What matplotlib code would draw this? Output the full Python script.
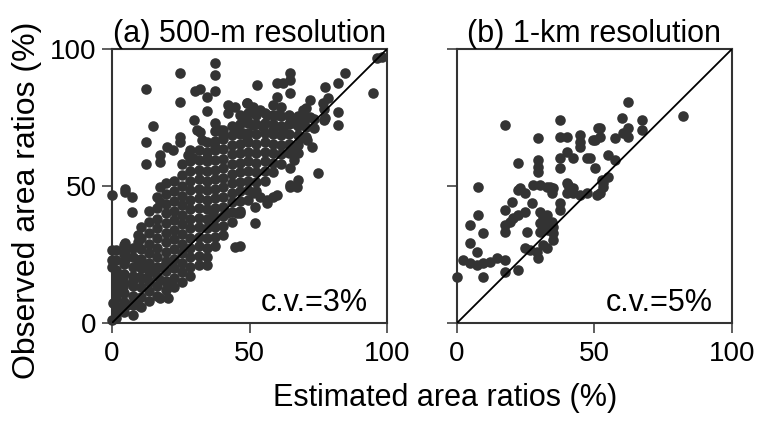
import matplotlib
matplotlib.use('Agg')
import matplotlib.pyplot as plt

plt.rcParams['font.family'] = ['Liberation Sans', 'DejaVu Sans']

# (a) 500-m resolution: scattered points
est_a_out = [37.5, 37.5, 24.7, 12.4, 30.2, 32.0, 37.5, 34.5, 24.7, 34.5, 42.2, 44.7, 49.0, 42.2,
             29.8, 37.5, 14.8, 30.8, 32.0, 32.6, 39.3, 40.5, 24.7, 24.7, 12.4, 19.9, 22.3, 17.5,
             17.5, 27.7, 29.6, 34.4, 37.5, 12.4, 45.3, 47.7, 49.0, 4.7,
             96.2, 98.0, 64.7, 64.7, 84.7, 52.6, 59.9, 62.3, 64.7, 59.9, 82.3, 77.5, 95.0, 72.0,
             78.7, 76.8, 82.3, 82.3, 77.5, 69.6, 72.0, 69.0, 49.0, 51.4, 53.8, 56.3, 59.9, 64.7,
             66.0, 68.4, 49.0, 51.4, 55.0, 58.7, 62.3, 68.4, 70.8, 72.6, 66.0, 67.7, 66.0, 64.7,
             75.0, 67.7, 64.7,
             0.0, 4.7, 7.2, 7.2, 17.5, 17.5, 9.6, 9.6, 4.7, 4.7, 0.0, 0.0, 0.0, 4.7, 9.6, 11.4,
             1.7, 4.1, 1.7, 4.1, 1.7, 7.8, 10.2, 12.6, 15.6, 18.7, 17.5, 19.9, 17.5, 20.5,
             0.5, 2.9, 5.3, 7.8, 9.6, 0.0, 1.7, 34.4, 44.7, 36.8, 41.7, 45.3,
             64.7, 67.2, 51.4, 53.8, 56.3, 58.7, 59.9, 52.0, 56.3, 52.0, 46.5, 46.5]
obs_a_out = [94.8, 90.5, 91.1, 85.3, 84.8, 85.3, 84.8, 82.4, 80.8, 77.5, 79.6, 79.0, 80.2, 76.5,
             74.1, 72.9, 71.9, 70.4, 69.8, 66.8, 70.4, 68.6, 68.0, 66.2, 66.2, 64.3, 63.1, 61.3,
             58.9, 61.3, 60.1, 60.1, 64.3, 58.0, 70.4, 69.2, 66.8, 48.8,
             96.6, 97.2, 91.1, 88.7, 91.1, 86.9, 87.5, 87.5, 83.8, 82.6, 87.5, 86.3, 83.8, 81.4,
             82.0, 80.2, 77.1, 72.3, 74.7, 77.7, 75.3, 74.1, 80.2, 79.0, 77.7, 75.9, 75.9, 74.7,
             72.9, 73.5, 74.1, 72.3, 71.7, 70.4, 70.4, 67.4, 66.8, 64.3, 64.3, 61.9, 59.5, 56.4,
             54.6, 52.2, 49.7,
             46.7, 47.9, 46.1, 40.6, 49.7, 44.3, 32.1, 29.7, 29.1, 26.0, 26.6, 23.0, 20.5, 23.0,
             23.0, 20.5, 18.1, 16.9, 14.5, 13.3, 10.8, 15.7, 16.9, 16.3, 19.3, 20.5, 15.7, 14.5,
             9.0, 9.0, 7.2, 6.0, 6.6, 7.2, 6.6, 1.1, 4.1, 21.2, 27.8, 40.0, 40.0, 40.0,
             50.4, 49.7, 47.3, 46.1, 44.9, 46.1, 46.7, 42.4, 43.7, 36.4, 40.0, 28.0]

# (a) dense core of the cloud, column by column
core_x = [1.5, 4.5, 7.5, 10.5, 13.5, 16.5, 19.5, 22.5, 25.5, 28.5, 31.5, 34.5, 37.5,
          40.5, 43.5, 46.5, 49.5, 52.5, 55.5, 58.5, 61.5, 64.5, 67.5, 70.5, 73.5, 77.0]
core_y = [
    [2, 5.5, 9, 12.5, 16, 19.5, 23, 26.5],
    [4, 7.5, 11, 14.5, 18, 21.5, 25, 28.5],
    [3, 6.5, 10, 13.5, 17, 20.5, 24, 27.5],
    [6, 9.5, 13, 16.5, 20, 23.5, 27, 31, 35],
    [8, 11.5, 15, 18.5, 22, 25.5, 29, 33, 37, 41],
    [10, 13.5, 17, 20.5, 24, 27.5, 31, 34.5, 38, 42, 46],
    [12, 15.5, 19, 22.5, 26, 29.5, 33, 36.5, 40, 43.5, 47, 51],
    [13, 16.5, 20, 23.5, 27, 30.5, 34, 37.5, 41, 44.5, 48, 52],
    [15, 18.5, 22, 25.5, 29, 32.5, 36, 39.5, 43, 46.5, 50, 54, 58],
    [17, 20.5, 24, 27.5, 31, 34.5, 38, 41.5, 45, 48.5, 52, 55.5, 59, 63],
    [21, 24.5, 28, 31.5, 35, 38.5, 42, 45.5, 49, 52.5, 56, 59.5, 63],
    [24, 27.5, 31, 34.5, 38, 41.5, 45, 48.5, 52, 55.5, 59, 62.5, 66],
    [28, 31.5, 35, 38.5, 42, 45.5, 49, 52.5, 56, 59.5, 63, 66.5, 70],
    [32, 35.5, 39, 42.5, 46, 49.5, 53, 56.5, 60, 63.5, 67, 70.5],
    [37, 40.5, 44, 47.5, 51, 54.5, 58, 61.5, 65, 68.5, 72],
    [41, 44.5, 48, 51.5, 55, 58.5, 62, 65.5, 69, 72.5, 76],
    [45, 48.5, 52, 55.5, 59, 62.5, 66, 69.5, 73, 76.5],
    [48, 51.5, 55, 58.5, 62, 65.5, 69, 72.5, 76],
    [52, 55.5, 59, 62.5, 66, 69.5, 73, 76.5],
    [55, 58.5, 62, 65.5, 69, 72.5, 76, 79.5],
    [58, 61.5, 65, 68.5, 72, 75.5, 79],
    [62, 65.5, 69, 72.5, 76],
    [65, 68.5, 72, 75.5],
    [68, 71.5, 75, 78.5],
    [71, 74.5],
    [74, 78],
]

# (b) 1-km resolution
est_b = [17.5, 37.5, 29.6, 37.5, 39.9, 44.7, 44.7, 44.7, 51.4, 50.2, 52.0, 39.9, 37.5, 42.3,
         37.5, 47.2, 50.2, 22.3, 29.6, 29.6, 29.6, 7.7, 22.9, 27.7, 30.2, 33.8, 39.9, 42.3,
         62.3, 82.3, 59.9, 67.2, 52.0, 62.3, 60.5, 57.5, 62.3, 67.2, 49.6, 55.0, 57.5, 48.4,
         55.0, 52.6, 53.2,
         22.3, 24.7, 32.6, 35.0, 34.4, 40.5, 39.9, 42.3, 44.7, 47.2, 50.8, 37.5, 37.5, 19.9,
         17.5, 27.2, 24.7, 22.3, 20.5, 19.3, 17.5, 17.5, 30.2, 31.4, 32.6, 31.4, 30.2, 32.0,
         34.4, 35.0, 35.0, 35.0, 33.2, 30.2, 25.3, 7.7, 4.7, 9.6, 4.7, 7.2, 2.3, 4.7, 7.2, 9.6,
         12.0, 14.4, 17.5, 0.0, 9.6, 17.5, 22.3, 24.7, 26.5, 29.0, 29.6, 31.4, 32.6, 52.0, 53.2]
obs_b = [72.3, 74.1, 67.4, 68.0, 68.0, 68.6, 66.2, 64.3, 71.1, 66.8, 68.0, 62.5, 60.1, 60.1,
         56.5, 60.1, 56.5, 58.3, 59.5, 57.0, 55.2, 49.7, 49.2, 50.4, 50.4, 49.7, 51.0, 49.2,
         80.8, 75.5, 74.7, 74.1, 71.1, 71.1, 69.2, 67.4, 68.0, 70.4, 66.8, 61.3, 59.5, 60.1,
         53.4, 52.2, 49.7,
         48.5, 47.3, 49.7, 49.2, 47.3, 50.4, 47.3, 47.3, 46.7, 47.3, 46.7, 43.7, 41.2, 44.3,
         41.2, 43.7, 40.6, 39.4, 38.2, 37.0, 35.8, 33.3, 40.6, 38.8, 39.4, 37.0, 36.4, 35.8,
         37.0, 35.1, 32.7, 30.3, 33.9, 33.3, 33.3, 39.4, 35.8, 32.7, 29.1, 26.0, 23.0, 21.8, 21.2, 21.8,
         22.4, 23.6, 23.0, 16.9, 16.9, 18.7, 19.3, 27.3, 26.6, 26.0, 23.6, 28.5, 27.3, 47.3, 51.0]

titles = ['(a) 500-m resolution', '(b) 1-km resolution']
cv_labels = ['c.v.=3%', 'c.v.=5%']

est_a = list(est_a_out)
obs_a = list(obs_a_out)
for cx, col in zip(core_x, core_y):
    est_a += [cx] * len(col)
    obs_a += col

dot = '#333333'
fig = plt.figure(figsize=(7.58, 4.21), dpi=100)
ax1 = fig.add_axes([0.1478, 0.2328, 0.3628, 0.6508])
ax2 = fig.add_axes([0.6029, 0.2328, 0.3628, 0.6508])

ax1.scatter(est_a, obs_a, s=58, color=dot, linewidths=0, clip_on=False, zorder=3)
ax2.scatter(est_b, obs_b, s=58, color=dot, linewidths=0, clip_on=False, zorder=3)

for i, ax in enumerate([ax1, ax2]):
    ax.plot([0, 100], [0, 100], color='black', lw=1.3, zorder=4)
    ax.set_xlim(0, 100)
    ax.set_ylim(0, 100)
    ax.set_xticks([0, 50, 100])
    ax.set_yticks([0, 50, 100])
    ax.tick_params(direction='out', length=7, width=1.1, color='#333333', labelsize=20)
    ax.tick_params(axis='x', pad=6)
    ax.tick_params(axis='y', pad=4)
    for sp in ax.spines.values():
        sp.set_linewidth(1.5)
        sp.set_color('#333333')
    ax.set_title(titles[i], fontsize=22, pad=3)
    ax.text(93, 4.5, cv_labels[i], ha='right', va='baseline', fontsize=22)

ax2.tick_params(labelleft=False)

fig.text(0.587, 0.055, 'Estimated area ratios (%)', ha='center', va='center', fontsize=22)
fig.text(0.035, 0.525, 'Observed area ratios (%)', rotation=90, ha='center', va='center',
         fontsize=23)

fig.savefig('out.png', dpi=100)
